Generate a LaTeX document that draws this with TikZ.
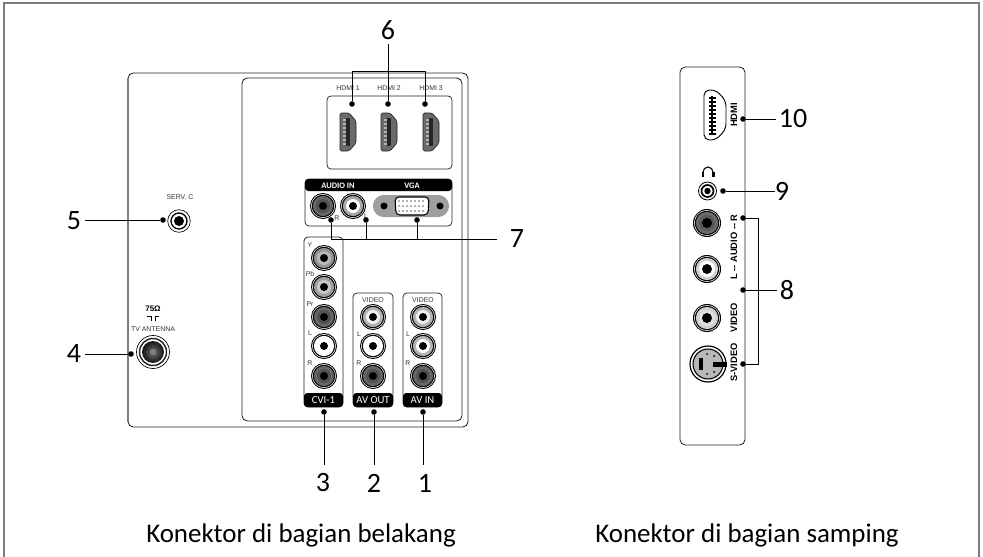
\documentclass[tikz,border=0pt]{standalone}
\usepackage{fontspec}
\setmainfont{Carlito}
\newfontfamily\labelfont{Liberation Sans}
\usetikzlibrary{positioning, calc}
\definecolor{framegrey}{RGB}{125, 125, 125}
\definecolor{linedark}{RGB}{35, 35, 35}

\begin{document}
\begin{tikzpicture}[
    x=0.75pt, y=-0.75pt,
    housing/.style={draw=linedark, line width=0.65pt, rounded corners=4pt},
    panel/.style={draw=linedark, line width=0.55pt, rounded corners=3pt},
    header/.style={fill=black, rounded corners=2.5pt},
    dotnode/.style={circle, fill=black, inner sep=0pt, minimum size=4.2pt},
    lead/.style={draw=black, line width=0.65pt},
    number/.style={font=\fontsize{21}{21}\selectfont, inner sep=0pt},
    caption/.style={font=\fontsize{20.2}{22}\selectfont, inner sep=0pt},
    tiny/.style={font=\labelfont\fontsize{5.2}{5}\selectfont, text=black!80, inner sep=0pt},
    headtext/.style={font=\fontsize{6.3}{6}\selectfont\bfseries, text=white, inner sep=0pt},
    foottext/.style={font=\fontsize{8}{8}\selectfont, text=white, inner sep=0pt},
    sidetext/.style={font=\labelfont\fontsize{7}{7}\selectfont\bfseries, rotate=90, inner sep=0pt},
    pics/jack/.style n args={3}{code={
      \fill[black] (0,0) circle (#1);
      \fill[white] (0,0) circle (#1-1);
      \fill[black] (0,0) circle (#1-1.7);
      \fill[#2] (0,0) circle (#1-2.9);
      \fill[#3] (0,0) circle (#1-6);
      \fill[black] (0,0) circle (#1-9);
    }},
    pics/rearhdmi/.style={code={
      \filldraw[draw=linedark, fill=black!58, line width=0.5pt, rounded corners=1.2pt]
        (-8,-19) -- (1,-19) -- (8,-11) -- (8,11) -- (1,19) -- (-8,19) -- cycle;
      \fill[black!85] (-2.5,-14) rectangle (2,14);
      \foreach \tooth in {-12,-8,...,12}
        \fill[black!30] (-5,\tooth-0.6) rectangle (-2,\tooth+0.6);
    }},
]
    \useasboundingbox (0,0) rectangle (983,557);

    % Outer frame, open at the bottom
    \draw[framegrey, line width=1.1pt] (4,557) -- (4,3) -- (979,3) -- (979,557);

    % Rear housing
    \draw[housing] (128,73) rectangle (468,427);
    \draw[framegrey, line width=1.3pt] (128,78) -- (128,422);
    \draw[housing] (242,78) rectangle (462,421);

    % HDMI panel
    \draw[panel] (327,96) rectangle (452,169);
    \foreach \hx/\hname in {348/HDMI 1, 389/HDMI 2, 431/HDMI 3} {
      \path (\hx,132) pic {rearhdmi};
      \node[tiny] (lbl\hx) at (\hx,88) {\hname};
    }

    % Audio and VGA panel
    \draw[panel] (305,179) rectangle (452,226);
    \fill[header] (305,179) rectangle (452,191);
    \node[headtext] (audioin) at (338,185.5) {AUDIO IN};
    \node[headtext] (vga) at (412,185.5) {VGA};
    \path (323,206) pic {jack={13}{black!60}{black!68}};
    \path (353,206) pic {jack={13}{black!35}{white}};
    \node[tiny] (audior) at (337,218) {R};
    \node[tiny] (audiol) at (366,216) {L};
    \fill[black!38, rounded corners=8pt] (373,195) rectangle (449,217);
    \filldraw[draw=black, fill=white, line width=0.8pt, rounded corners=3pt]
      (395,197) -- (429,197) -- (428,215) -- (396,215) -- cycle;
    \foreach \vx in {399,403,...,425}
      \foreach \vy in {201,206,211}
        \fill[black!60] (\vx,\vy) circle (0.8);
    \fill[black] (384,206) circle (3.5);
    \fill[black] (440,206) circle (3.5);

    % CVI-1 column
    \draw[panel] (304,237) rectangle (343,407);
    \fill[header] (304,393) rectangle (343,407);
    \node[foottext] (cvi) at (323.5,400) {CVI-1};
    \foreach \jy/\jname/\ringcol/\corecol in {258/Y/black!42/black!28, 287/Pb/black!38/black!22,
        317/Pr/black!60/black!68, 346/L/white/white, 376/R/black!60/black!68} {
      \path (324,\jy) pic {jack={13}{\ringcol}{\corecol}};
      \node[tiny] (cvi\jname) at (310,\jy-13) {\jname};
    }

    % AV OUT column
    \draw[panel] (353,293) rectangle (393,407);
    \fill[header] (353,393) rectangle (393,407);
    \node[foottext] (avout) at (373,400) {AV OUT};
    \node[tiny] (outvideo) at (373,300) {VIDEO};
    \node[tiny] (outl) at (359,334) {L};
    \node[tiny] (outr) at (359,363) {R};
    \path (373,317) pic {jack={13}{black!30}{black!6}};
    \path (373,346) pic {jack={13}{white}{white}};
    \path (373,376) pic {jack={13}{black!60}{black!68}};

    % AV IN column
    \draw[panel] (403,293) rectangle (442,407);
    \fill[header] (403,393) rectangle (442,407);
    \node[foottext] (avin) at (422.5,400) {AV IN};
    \node[tiny] (invideo) at (423,300) {VIDEO};
    \node[tiny] (inl) at (408,334) {L};
    \node[tiny] (inr) at (408,363) {R};
    \path (423,317) pic {jack={13}{black!30}{black!6}};
    \path (423,346) pic {jack={13}{black!30}{white}};
    \path (423,376) pic {jack={13}{black!60}{black!68}};

    % Service and antenna sockets
    \node[tiny] (servc) at (180,197) {SERV. C};
    \draw[black, line width=0.5pt] (179,221) circle (11.3);
    \draw[black, line width=1pt] (179,221) circle (8);
    \fill[black] (179,221) circle (5);
    \node[font=\labelfont\fontsize{6}{6}\selectfont\bfseries, inner sep=0pt] (ohm) at (153,309) {75Ω};
    \draw[black, line width=0.6pt] (147,316.5) -- (151.5,316.5) -- (151.5,321) (159,316.5) -- (155,316.5) -- (155,321);
    \node[tiny] (antenna) at (153,329) {TV ANTENNA};
    \draw[black, line width=0.5pt] (153,352) circle (16.5);
    \draw[black!85, line width=1.1pt] (153,352) circle (13.5);
    \shade[inner color=black!55, outer color=black!92] (153,352) circle (11);
    \fill[black!50] (153,352) circle (3.2);

    % Side housing
    \draw[housing] (680,67) rectangle (745,445);
    \filldraw[draw=black, fill=white, line width=0.7pt, rounded corners=4pt]
      (704,90) -- (716,90) -- (726,101) -- (726,129) -- (716,140) -- (704,140) -- cycle;
    \draw[black, line width=2.2pt] (712,96) -- (712,134);
    \foreach \tooth in {98,102,...,134}
      \draw[black, line width=1pt] (708.5,\tooth) -- (716,\tooth);
    \node[sidetext] (sidehdmi) at (734,115) {HDMI};

    % Headphone socket
    \draw[black, line width=0.8pt] (703,172) arc (180:360:5);
    \fill[black] (701.5,172) rectangle (704,177);
    \fill[black] (712,172) rectangle (714.5,177);
    \draw[black, line width=0.6pt] (707.5,191) circle (9);
    \draw[black, line width=1.3pt] (707.5,191) circle (6);
    \fill[black] (707.5,191) circle (3.2);

    % Side jacks
    \path (707,223) pic {jack={14}{black!58}{black!65}};
    \path (707,269) pic {jack={14}{black!18}{white}};
    \path (707,318) pic {jack={14}{black!18}{black!12}};
    \node[sidetext] (sideaudio) at (734,247) {L -- AUDIO -- R};
    \node[sidetext] (sidevideo) at (734,317.5) {VIDEO};
    \node[sidetext] (sidesvideo) at (734,362.5) {S-VIDEO};

    % S-video socket
    \draw[black, line width=0.9pt] (708,364) circle (18);
    \filldraw[draw=black, fill=black!28, line width=0.8pt] (708,364) circle (15);
    \fill[black] (699,358) rectangle (703,370);
    \fill[black] (713,362) rectangle (727,367);
    \foreach \px/\py in {707/354, 714/356, 707/374, 714/372}
      \fill[black] (\px,\py) circle (1);

    % Dots
    \node[dotnode] (d1) at (423,412) {};
    \node[dotnode] (d2) at (374,412) {};
    \node[dotnode] (d3) at (324,412) {};
    \node[dotnode] (d4) at (131,354) {};
    \node[dotnode] (d5) at (163,220) {};
    \node[dotnode] (d6a) at (352,104) {};
    \node[dotnode] (d6b) at (388,104) {};
    \node[dotnode] (d6c) at (425,104) {};
    \node[dotnode] (d7a) at (331,220) {};
    \node[dotnode] (d7b) at (366,220) {};
    \node[dotnode] (d7c) at (417,220) {};
    \node[dotnode] (d8a) at (743,218) {};
    \node[dotnode] (d8b) at (743,290) {};
    \node[dotnode] (d8c) at (743,364) {};
    \node[dotnode] (d9) at (723,191) {};
    \node[dotnode] (d10) at (743,119) {};

    % Numbers
    \node[number] (n1) at (425,483) {1};
    \node[number] (n2) at (374,483) {2};
    \node[number] (n3) at (323,483) {3};
    \node[number] (n4) at (74,354) {4};
    \node[number] (n5) at (74,221) {5};
    \node[number] (n6) at (388,30) {6};
    \node[number] (n7) at (517,239) {7};
    \node[number] (n8) at (787,290) {8};
    \node[number] (n9) at (782,191) {9};
    \node[number] (n10) at (793,119) {10};

    % Leader lines
    \draw[lead] (d1) -- (423,465) coordinate (e1);
    \draw[lead] (d2) -- (374,465) coordinate (e2);
    \draw[lead] (d3) -- (324,465) coordinate (e3);
    \draw[lead] (d4) -- (85,354) coordinate (e4);
    \draw[lead] (d5) -- (85,220) coordinate (e5);
    \draw[lead] (d6b) -- (388,44) coordinate (e6);
    \draw[lead] (d6a) -- (352,71) -- (425,71) -- (d6c);
    \coordinate (e7) at (497,239);
    \draw[lead] (d7a) |- (e7);
    \draw[lead] (d7b) -- (d7b |- e7);
    \draw[lead] (d7c) -- (d7c |- e7);
    \draw[lead] (d8a) -- (758,218) -- (758,364) -- (d8c);
    \draw[lead] (d8b) -- (777,290) coordinate (e8);
    \draw[lead] (d9) -- (775,191) coordinate (e9);
    \draw[lead] (d10) -- (776,119) coordinate (e10);

    % Captions
    \node[caption] (rearcap) at (301,535) {Konektor di bagian belakang};
    \node[caption] (sidecap) at (747,535) {Konektor di bagian samping};
\end{tikzpicture}
\end{document}
